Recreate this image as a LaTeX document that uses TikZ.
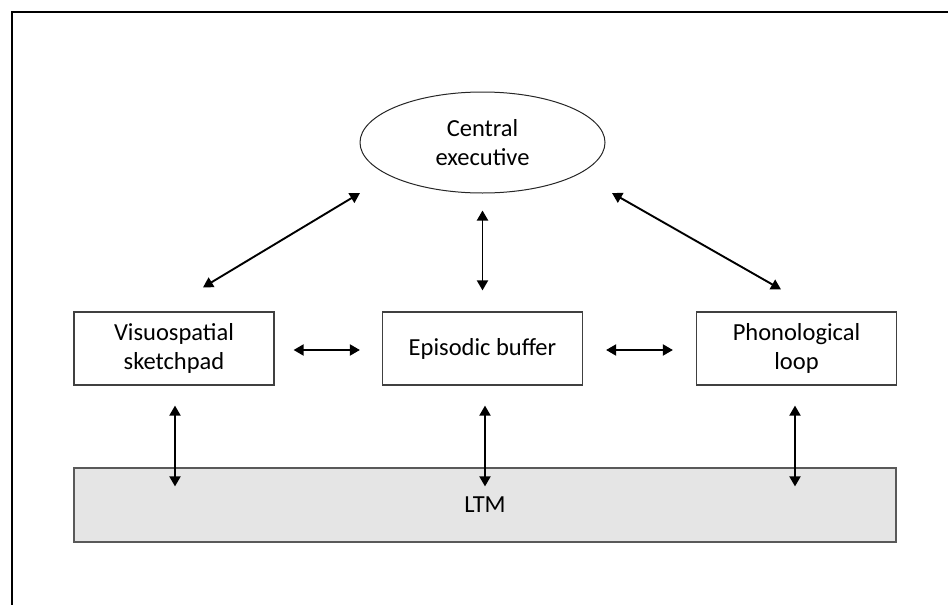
\documentclass[tikz,border=0pt]{standalone}
\usepackage{fontspec}
\setmainfont{Carlito}
\usetikzlibrary{shapes.geometric,arrows.meta,calc}
\begin{document}
\begin{tikzpicture}[x=1pt,y=-1pt,
  lbl/.style={font=\fontsize{24.5}{29}\selectfont,text=black,align=center},
  box/.style={lbl,draw=black!75,line width=1.2pt,minimum width=200pt,minimum height=73pt,inner sep=0pt},
  arr/.style={line width=1.9pt,{Triangle[length=10pt,width=11pt]}-{Triangle[length=10pt,width=11pt]}},
 ]
\useasboundingbox (0,0) rectangle (948,605);
\draw[line width=2pt] (11.5,606) -- (11.5,11.5) -- (949,11.5);
\node[lbl,draw=black!85,line width=1pt,ellipse,minimum width=245pt,minimum height=101pt,inner sep=0pt] (ce) at (482.5,142.5) {Central\\executive};
\node[box] (vs) at (174,348.5) {Visuospatial\\sketchpad};
\node[box] (eb) at (482.5,348.5) {Episodic buffer};
\node[box] (pl) at (796.5,348.5) {Phonological\\loop};
\node[lbl,draw=black!65,fill=black!10,line width=1.2pt,minimum width=822pt,minimum height=74pt,inner sep=0pt] (ltm) at (485,505) {LTM};
% upper connectors
\draw[arr] ($(vs.north)+(29,-24)$) -- ($(ce.center)+(-122.5,50.5)$);
\draw[arr] ($(pl.north)+(-15.5,-22)$) -- ($(ce.center)+(129.5,50.5)$);
\draw[arr] ($(ce.south)+(0,17)$) -- ($(eb.north)+(0,-21)$);
% horizontal connectors
\draw[arr] ($(vs.east)+(19,1.5)$) -- ($(eb.west)+(-22,1.5)$);
\draw[arr] ($(eb.east)+(23,1.5)$) -- ($(pl.west)+(-23,1.5)$);
% lower connectors
\draw[arr] ($(vs.south)+(1,20)$) -- ($(vs.south |- ltm.north)+(1,19)$);
\draw[arr] ($(eb.south)+(2.5,20)$) -- ($(eb.south |- ltm.north)+(2.5,19)$);
\draw[arr] ($(pl.south)+(-1.5,20)$) -- ($(pl.south |- ltm.north)+(-1.5,19)$);
\end{tikzpicture}
\end{document}
